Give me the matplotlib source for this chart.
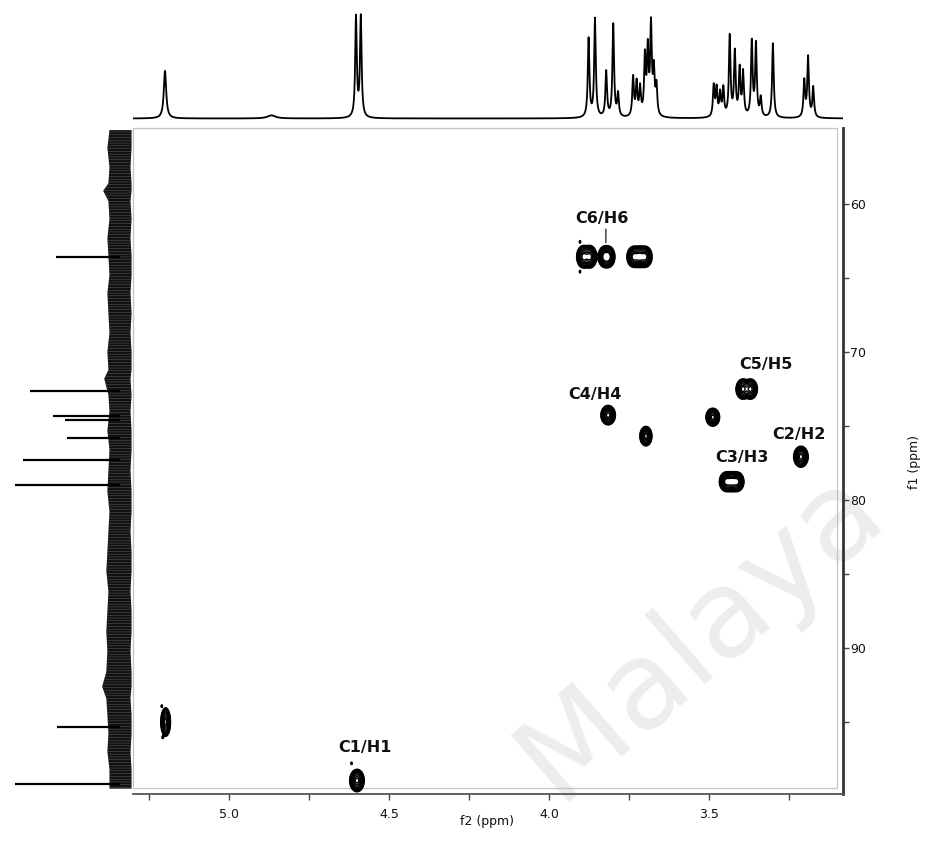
import numpy as np
import matplotlib
matplotlib.use("Agg")
import matplotlib.pyplot as plt
from matplotlib.patches import Rectangle

# ---------------- data ----------------
# 1H projection (top): peak positions (ppm), relative heights, half widths
h1_ppm = [5.200, 4.867, 4.603, 4.588,
          3.876, 3.856, 3.821, 3.799, 3.784, 3.737, 3.726, 3.715, 3.700, 3.691, 3.681, 3.672, 3.664,
          3.485, 3.476, 3.465, 3.455, 3.435, 3.419, 3.404, 3.393, 3.366, 3.353, 3.338, 3.300,
          3.202, 3.190, 3.174]
h1_height = [0.46, 0.03, 0.97, 0.97,
             0.76, 0.95, 0.44, 0.90, 0.22, 0.38, 0.32, 0.27, 0.56, 0.62, 0.86, 0.42, 0.28,
             0.30, 0.27, 0.22, 0.27, 0.78, 0.62, 0.45, 0.42, 0.72, 0.70, 0.18, 0.72,
             0.35, 0.58, 0.29]
h1_hwhm = [0.0045, 0.015, 0.003, 0.003] + [0.003] * 13 + [0.003] * 12 + [0.003] * 3

# 13C projection (left): peak positions (ppm) and relative intensities
c13_ppm = [63.6, 72.6, 74.35, 74.6, 75.8, 77.3, 79.0, 95.3, 99.2]
c13_int = [0.61, 0.86, 0.64, 0.52, 0.50, 0.92, 1.00, 0.60, 1.00]
# noise band envelope of the 13C projection (left reach, right reach)
noise_ppm = [55.0, 56.2, 57.5, 58.6, 59.1, 59.8, 61.0, 62.3, 63.5, 64.8, 66.0, 67.4, 68.7, 70.0,
             71.2, 71.8, 72.9, 74.0, 75.3, 76.6, 78.0, 79.4, 80.8, 82.1, 83.5, 84.8, 86.2, 87.5,
             88.9, 90.2, 91.6, 92.6, 93.4, 94.5, 95.8, 97.0, 98.2, 99.5]
noise_left = [0.10, 0.12, 0.10, 0.11, 0.16, 0.11, 0.10, 0.12, 0.11, 0.10, 0.12, 0.11, 0.10, 0.12,
              0.11, 0.15, 0.11, 0.10, 0.12, 0.10, 0.11, 0.12, 0.10, 0.11, 0.12, 0.13, 0.11, 0.12,
              0.13, 0.12, 0.13, 0.17, 0.13, 0.12, 0.11, 0.12, 0.10, 0.10]
noise_right = [0.11, 0.11, 0.10, 0.11, 0.11, 0.10, 0.11, 0.10, 0.11, 0.11, 0.10, 0.11, 0.10, 0.11,
               0.11, 0.10, 0.11, 0.10, 0.11, 0.11, 0.10, 0.11, 0.11, 0.10, 0.11, 0.11, 0.10, 0.11,
               0.11, 0.10, 0.11, 0.11, 0.10, 0.11, 0.11, 0.10, 0.11, 0.11]

# HSQC cross peaks: 1H ppm, 13C ppm, amplitude, width (1H), width (13C)
cp_h = [3.892, 3.872, 3.826, 3.814, 3.735, 3.717, 3.699,
        3.815, 3.697, 3.488, 3.394, 3.370, 3.2125,
        3.446, 3.429, 3.412, 5.198, 4.600,
        3.903, 3.903, 5.210, 5.207, 4.617]
cp_c = [63.56, 63.56, 63.56, 63.56, 63.56, 63.56, 63.56,
        74.26, 75.68, 74.40, 72.50, 72.50, 77.07,
        78.76, 78.76, 78.76, 95.00, 98.95,
        62.55, 64.57, 93.92, 96.03, 97.79]
cp_amp = [1.0, 1.0, 1.0, 1.0, 1.0, 1.0, 1.0,
          1.0, 1.0, 1.0, 1.0, 1.0, 1.0,
          1.0, 1.0, 1.0, 1.0, 1.0,
          0.07, 0.07, 0.07, 0.07, 0.07]
cp_sh = [0.0085, 0.0085, 0.008, 0.008, 0.0085, 0.0085, 0.0085,
         0.009, 0.0075, 0.0085, 0.0085, 0.0085, 0.009,
         0.0085, 0.0085, 0.0085, 0.006, 0.009,
         0.002, 0.002, 0.002, 0.002, 0.002]
cp_sc = [0.30, 0.30, 0.28, 0.28, 0.28, 0.28, 0.28,
         0.26, 0.26, 0.24, 0.27, 0.27, 0.28,
         0.26, 0.26, 0.26, 0.38, 0.30,
         0.08, 0.08, 0.08, 0.08, 0.08]

labels = ["C6/H6", "C4/H4", "C5/H5", "C2/H2", "C3/H3", "C1/H1"]
label_h = [3.835, 3.856, 3.322, 3.219, 3.398, 4.575]
label_c = [60.97, 72.90, 70.81, 75.54, 77.11, 96.71]

x_ticks = [5.0, 4.5, 4.0, 3.5]
x_minor = [5.25, 4.75, 4.25, 3.75, 3.25]
y_ticks = [60, 70, 80, 90]
y_minor = [65, 75, 85, 95]

XLIM = (5.300, 3.081)
YLIM = (99.86, 54.86)

# ---------------- figure ----------------
W, H = 929, 841
fig = plt.figure(figsize=(W / 100, H / 100), dpi=100)
plt.rcParams["font.family"] = ["DejaVu Sans"]
plt.rcParams["hatch.color"] = "#6a6a6a"
plt.rcParams["hatch.linewidth"] = 0.3


def px_rect(l, t, r, b):
    return [l / W, 1 - b / H, (r - l) / W, (b - t) / H]


# watermark (behind everything)
fig.text(700 / W, 1 - 634 / H, "Malaya", ha="center", va="center", fontsize=88,
         rotation=41, color="#ededed", zorder=-5)

# main 2D axes
ax = fig.add_axes(px_rect(133, 128, 843, 794))
ax.set_facecolor("none")
xs = np.arange(3.05, 5.35, 0.0012)
ys = np.arange(54.5, 100.3, 0.05)
X, Y = np.meshgrid(xs, ys)
Z = np.zeros_like(X)
for h, c, a, sh, sc in zip(cp_h, cp_c, cp_amp, cp_sh, cp_sc):
    Z += a * np.exp(-0.5 * ((X - h) / sh) ** 2 - 0.5 * ((Y - c) / sc) ** 2)
levels = [0.04, 0.055, 0.075, 0.1, 0.14, 0.2, 0.3, 0.45, 0.65, 0.85]
ax.contour(X, Y, Z, levels=levels, colors="black", linewidths=1.0)

ax.set_xlim(*XLIM)
ax.set_ylim(*YLIM)
for s in ("top", "left"):
    ax.spines[s].set_visible(False)
ax.spines["bottom"].set_color("#555555")
ax.spines["bottom"].set_linewidth(1.3)
ax.spines["right"].set_color("#333333")
ax.spines["right"].set_linewidth(2.0)
ax.yaxis.tick_right()
ax.set_xticks(x_ticks)
ax.set_xticks(x_minor, minor=True)
ax.set_xticklabels(["%.1f" % v for v in x_ticks])
ax.set_yticks(y_ticks)
ax.set_yticks(y_minor, minor=True)
ax.set_yticklabels([str(v) for v in y_ticks])
ax.tick_params(axis="x", which="both", direction="out", length=4, width=1,
               color="#444444", labelsize=9, pad=6, labelcolor="#111111")
ax.tick_params(axis="y", which="both", direction="out", length=4, width=1,
               color="#444444", labelsize=9, pad=1, labelcolor="#111111")
ax.add_patch(Rectangle((0, 0.009), 0.9915, 0.991, transform=ax.transAxes,
                       fill=False, edgecolor="#c4c4c4", linewidth=0.9, clip_on=False))

for t, h, c in zip(labels, label_h, label_c):
    ax.text(h, c, t, ha="center", va="center", fontsize=11.5, fontweight="bold", color="#111111")
ax.annotate("", xy=(3.822, 62.8), xytext=(3.822, 61.5),
            arrowprops=dict(arrowstyle="-", color="black", lw=0.8))

# top 1H projection
axt = fig.add_axes(px_rect(133, 10, 843, 125))
axt.set_facecolor("none")
xh = np.arange(3.05, 5.35, 0.0004)
spec = np.zeros_like(xh)
for p, hgt, w in zip(h1_ppm, h1_height, h1_hwhm):
    spec += hgt * w ** 2 / ((xh - p) ** 2 + w ** 2)
axt.plot(xh, spec, color="black", lw=1.3)
axt.set_xlim(*XLIM)
axt.set_ylim(-0.0628, 1.048)
axt.axis("off")

# left 13C projection
axl = fig.add_axes(px_rect(0, 128, 133, 794))
axl.set_facecolor("none")
axl.fill_betweenx(noise_ppm, [-a for a in noise_right], noise_left,
                  facecolor="#111111", edgecolor="none", hatch="------")
axl.hlines(c13_ppm, 0, c13_int, color="black", lw=1.6)
axl.set_xlim(1.143, -0.124)
axl.set_ylim(*YLIM)
axl.axis("off")

# axis titles
fig.text(487 / W, 1 - 822 / H, "f2 (ppm)", ha="center", va="center", fontsize=9, color="#111111")
fig.text(915 / W, 1 - 462 / H, "f1 (ppm)", ha="center", va="center", fontsize=9,
         rotation=90, color="#111111")

fig.savefig("out.png", dpi=100)
